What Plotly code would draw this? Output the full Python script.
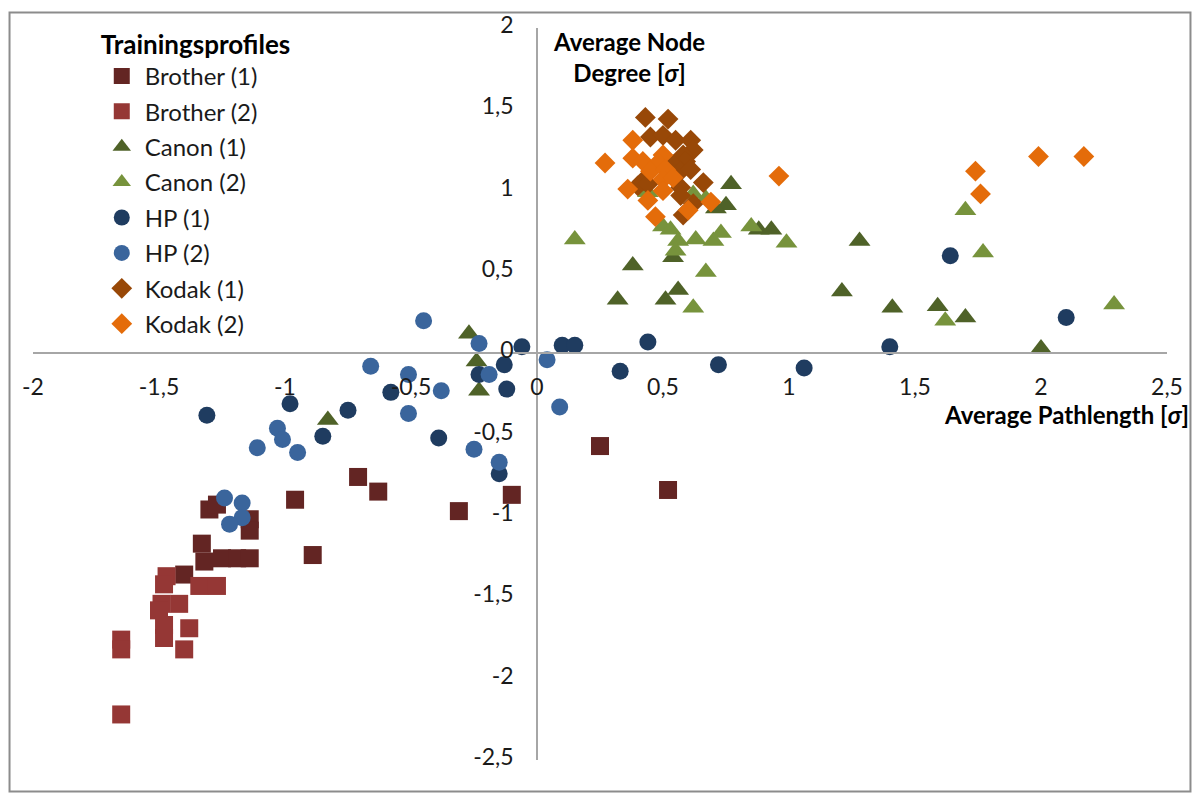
import plotly.graph_objects as go

# values (x = average pathlength, y = average node degree, in sigma)
brother1_x = [0.25, 0.52, -0.10, -0.31, -0.63, -0.71, -0.89, -0.96, -1.30, -1.27, -1.14, -1.14,
              -1.33, -1.32, -1.25, -1.19, -1.14, -1.40]
brother1_y = [-0.57, -0.84, -0.87, -0.97, -0.85, -0.76, -1.24, -0.90, -0.96, -0.93, -1.02, -1.09,
              -1.17, -1.28, -1.26, -1.26, -1.26, -1.36]

brother2_x = [-1.47, -1.48, -1.34, -1.27, -1.49, -1.42, -1.50, -1.48, -1.38, -1.48, -1.65, -1.65,
              -1.40, -1.65]
brother2_y = [-1.37, -1.42, -1.43, -1.43, -1.54, -1.54, -1.58, -1.67, -1.69, -1.75, -1.76, -1.82,
              -1.82, -2.22]

canon1_x = [0.77, 0.75, 0.71, 0.88, 0.93, 0.38, 0.32, 0.51, 0.56, 0.54, -0.27, 1.28, 1.21, 1.41,
            1.59, 1.70, 2.00, -0.24, -0.23, -0.83]
canon1_y = [1.04, 0.91, 0.89, 0.76, 0.76, 0.54, 0.33, 0.33, 0.39, 0.59, 0.12, 0.69, 0.38, 0.28,
            0.29, 0.22, 0.03, -0.05, -0.23, -0.41]

canon2_x = [0.15, 0.50, 0.53, 0.56, 0.55, 0.63, 0.70, 0.73, 0.85, 0.99, 0.67, 0.62, 0.62, 0.44,
            0.67, 1.70, 1.77, 1.62, 2.29]
canon2_y = [0.70, 0.78, 0.76, 0.69, 0.63, 0.70, 0.69, 0.74, 0.78, 0.68, 0.50, 0.28, 0.98, 0.99,
            0.95, 0.88, 0.62, 0.20, 0.30]

hp1_x = [1.64, 2.10, 1.40, 1.06, -0.06, 0.10, 0.15, 0.44, 0.33, 0.72, -0.13, -0.23, -0.12, -0.15,
         -0.58, -0.75, -0.98, -0.85, -0.39, -1.31]
hp1_y = [0.60, 0.22, 0.04, -0.09, 0.04, 0.05, 0.05, 0.07, -0.11, -0.07, -0.07, -0.13, -0.22, -0.74,
         -0.24, -0.35, -0.31, -0.51, -0.52, -0.38]

hp2_x = [-0.45, -0.23, -0.66, -0.51, -0.19, -0.38, -0.51, -0.25, -0.15, -1.03, -1.01, -0.95, -1.11,
         0.04, 0.09, -1.24, -1.17, -1.17, -1.22]
hp2_y = [0.20, 0.06, -0.08, -0.13, -0.13, -0.23, -0.37, -0.59, -0.67, -0.46, -0.53, -0.61, -0.58,
         -0.04, -0.33, -0.89, -0.92, -1.01, -1.05]

kodak1_x = [0.43, 0.52, 0.45, 0.50, 0.55, 0.61, 0.62, 0.58, 0.59, 0.54, 0.57, 0.61, 0.42, 0.40,
            0.44, 0.66, 0.57, 0.57, 0.62, 0.58]
kodak1_y = [1.45, 1.44, 1.33, 1.34, 1.31, 1.31, 1.25, 1.22, 1.18, 1.16, 1.12, 1.13, 1.06, 1.03,
            1.04, 1.05, 1.02, 0.97, 0.92, 0.85]

kodak2_x = [0.38, 0.27, 0.38, 0.42, 0.50, 0.48, 0.45, 0.51, 0.50, 0.54, 0.36, 0.50, 0.44, 0.69,
            0.60, 0.47, 0.96, 1.74, 1.76, 1.99, 2.17]
kodak2_y = [1.31, 1.17, 1.20, 1.18, 1.22, 1.17, 1.12, 1.13, 1.07, 1.08, 1.01, 1.00, 0.94, 0.93,
            0.88, 0.84, 1.09, 1.12, 0.98, 1.21, 1.21]

# tick labels as Excel shows them (comma decimals, plain hyphen minus)
x_tickvals = [-2, -1.5, -1, -0.5, 0, 0.5, 1, 1.5, 2, 2.5]
x_ticktext = ["-2", "-1,5", "-1", "-0,5", "0", "0,5", "1", "1,5", "2", "2,5"]
y_tickvals = [-2.5, -2, -1.5, -1, -0.5, 0, 0.5, 1, 1.5, 2]
y_ticktext = ["-2,5", "-2", "-1,5", "-1", "-0,5", "0", "0,5", "1", "1,5", "2"]

series = [
    ("Brother (1)", brother1_x, brother1_y, "square", 18, "#632523"),
    ("Brother (2)", brother2_x, brother2_y, "square", 18, "#953735"),
    ("Canon (1)", canon1_x, canon1_y, "triangle-up", 19, "#4F6228"),
    ("Canon (2)", canon2_x, canon2_y, "triangle-up", 19, "#77933C"),
    ("HP (1)", hp1_x, hp1_y, "circle", 17, "#1F3C60"),
    ("HP (2)", hp2_x, hp2_y, "circle", 17, "#3A659C"),
    ("Kodak (1)", kodak1_x, kodak1_y, "diamond", 16, "#984807"),
    ("Kodak (2)", kodak2_x, kodak2_y, "diamond", 16, "#E46C0A"),
]

x_range = [-2, 2.5]
y_range = [-2.5, 2]
font = "Lato"

# page body adds 8px on each side, so the figure is 16px smaller than the window
W, H = 1184, 785

fig = go.Figure()
for name, xs, ys, symbol, size, color in series:
    fig.add_trace(go.Scatter(
        x=xs, y=ys, mode="markers", name=name, legendgroup=name,
        marker=dict(symbol=symbol, size=size, color=color, line=dict(width=0)),
    ))

# axes cross at the origin, like the Excel chart
x_zero = (0 - x_range[0]) / (x_range[1] - x_range[0])
y_zero = (0 - y_range[0]) / (y_range[1] - y_range[0])

fig.update_xaxes(
    range=x_range, tickvals=x_tickvals, ticktext=x_ticktext,
    showgrid=False, zeroline=False, automargin=False,
    showline=True, linecolor="#A6A6A6", linewidth=1.5,
    anchor="free", position=y_zero,
    ticks="outside", ticklen=13, tickcolor="rgba(0,0,0,0)",
    tickfont=dict(family=font, size=23, color="#1a1a1a"),
)
fig.update_yaxes(
    range=y_range, tickvals=y_tickvals, ticktext=y_ticktext,
    showgrid=False, zeroline=False, automargin=False,
    showline=True, linecolor="#A6A6A6", linewidth=1.5,
    anchor="free", position=x_zero,
    ticks="outside", ticklen=18, tickcolor="rgba(0,0,0,0)", ticklabelshift=-3,
    tickfont=dict(family=font, size=23, color="#1a1a1a"),
)

fig.add_annotation(
    text="<b>Average Node<br>Degree [<i>σ</i>]</b>", xref="paper", yref="paper",
    x=0.5256, y=0.9606, xanchor="center", yanchor="middle", showarrow=False, align="center",
    font=dict(family=font, size=24, color="#000000"),
)
fig.add_annotation(
    text="<b>Average Pathlength [<i>σ</i>]</b>", xref="paper", yref="paper",
    x=1.021, y=0.4725, xanchor="right", yanchor="middle", showarrow=False,
    font=dict(family=font, size=24, color="#000000"),
)

# chart area border
fig.add_shape(type="rect", xref="paper", yref="paper",
              x0=-0.0207, x1=1.0207, y0=-0.0429, y1=1.0211,
              line=dict(color="#8C8C8C", width=2))

fig.update_layout(
    width=W, height=H,
    margin=dict(l=25, r=25, t=17, b=33),
    paper_bgcolor="white", plot_bgcolor="white",
    font=dict(family=font, size=23, color="#1a1a1a"),
    legend=dict(
        title=dict(text="<b>Trainingsprofiles</b>", font=dict(family=font, size=26, color="#000000")),
        x=0.058, y=1.0109, xanchor="left", yanchor="top",
        bgcolor="rgba(0,0,0,0)", tracegroupgap=1.2, itemwidth=36,
        font=dict(family=font, size=24, color="#1a1a1a"),
    ),
    showlegend=True,
)

fig.write_html("out.html")
